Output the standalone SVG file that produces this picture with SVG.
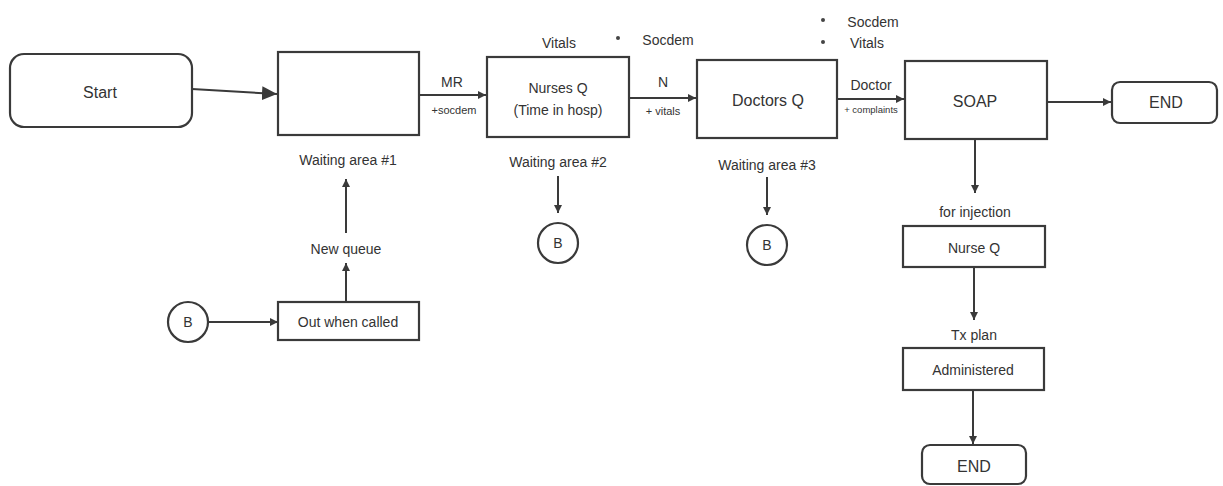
<svg xmlns="http://www.w3.org/2000/svg" width="1223" height="486" viewBox="0 0 1223 486">
<style>
.box{fill:#fff;stroke:#3a3a3a;stroke-width:2.2}
.ln{fill:none;stroke:#3a3a3a;stroke-width:2}
.t{font-family:"Liberation Sans",Arial,sans-serif;fill:#333;text-anchor:middle}
.s14{font-size:14px}
.s16{font-size:16px}
.s11{font-size:11px}
.s9{font-size:9.5px}
</style>
<defs>
<marker id="ah" markerUnits="userSpaceOnUse" markerWidth="9" markerHeight="8" refX="8" refY="4" orient="auto">
<path d="M0,0 L8,4 L0,8 Z" fill="#3a3a3a"/>
</marker>
<marker id="big" markerUnits="userSpaceOnUse" markerWidth="16" markerHeight="14" refX="15" refY="7" orient="auto">
<path d="M0,0 L15,7 L0,14 Z" fill="#3a3a3a"/>
</marker>
</defs>
<rect width="1223" height="486" fill="#fff"/>

<g id="connectors">
<line class="ln" x1="192" y1="89" x2="277" y2="94" stroke-width="3" marker-end="url(#big)"/>
<line class="ln" x1="419" y1="95" x2="486" y2="95" marker-end="url(#ah)"/>
<line class="ln" x1="629" y1="98" x2="696" y2="98" marker-end="url(#ah)"/>
<line class="ln" x1="837" y1="99" x2="904" y2="99" marker-end="url(#ah)"/>
<line class="ln" x1="1047" y1="102" x2="1111" y2="102" marker-end="url(#ah)"/>
<line class="ln" x1="975" y1="140" x2="975" y2="193" marker-end="url(#ah)"/>
<line class="ln" x1="974" y1="267" x2="974" y2="320" marker-end="url(#ah)"/>
<line class="ln" x1="973" y1="390" x2="973" y2="444" marker-end="url(#ah)"/>
<line class="ln" x1="558" y1="176" x2="558" y2="213" marker-end="url(#ah)"/>
<line class="ln" x1="767" y1="177" x2="767" y2="215" marker-end="url(#ah)"/>
<line class="ln" x1="208" y1="322" x2="278" y2="322" marker-end="url(#ah)"/>
<line class="ln" x1="346" y1="302" x2="346" y2="263" marker-end="url(#ah)"/>
<line class="ln" x1="346" y1="233" x2="346" y2="179" marker-end="url(#ah)"/>
<text class="t s14" x="452" y="87">MR</text>
<text class="t s11" x="454" y="114">+socdem</text>
<text class="t s14" x="663" y="87">N</text>
<text class="t s11" x="663" y="115">+ vitals</text>
<text class="t s14" x="871" y="90">Doctor</text>
<text class="t s9" x="871" y="113">+ complaints</text>
<text class="t s14" x="346" y="254">New queue</text>
<text class="t s14" x="975" y="217">for injection</text>
<text class="t s14" x="974" y="340">Tx plan</text>
</g>

<g id="start">
<rect class="box" x="10" y="54" width="182" height="73" rx="14"/>
<text class="t s16" x="100" y="98">Start</text>
</g>

<g id="waiting1">
<rect class="box" x="278" y="52" width="141" height="83"/>
<text class="t s14" x="348" y="165">Waiting area #1</text>
</g>

<g id="nursesq">
<rect class="box" x="487" y="57" width="142" height="80"/>
<text class="t s14" x="558" y="93">Nurses Q</text>
<text class="t s14" x="558" y="115">(Time in hosp)</text>
<text class="t s14" x="559" y="48">Vitals</text>
<circle cx="618" cy="38" r="2" fill="#444"/>
<text class="t s14" x="668" y="45">Socdem</text>
<text class="t s14" x="558" y="167">Waiting area #2</text>
</g>

<g id="doctorsq">
<rect class="box" x="697" y="60" width="140" height="78"/>
<text class="t s16" x="768" y="106">Doctors Q</text>
<text class="t s14" x="767" y="170">Waiting area #3</text>
</g>

<g id="soap">
<rect class="box" x="905" y="61" width="142" height="78"/>
<text class="t s16" x="975" y="107">SOAP</text>
<circle cx="823" cy="20" r="2" fill="#444"/>
<text class="t s14" x="873" y="27">Socdem</text>
<circle cx="823" cy="42" r="2" fill="#444"/>
<text class="t s14" x="867" y="48">Vitals</text>
</g>

<g id="end1">
<rect class="box" x="1112" y="82" width="105" height="41" rx="8"/>
<text class="t s16" x="1166" y="108">END</text>
</g>

<g id="b2">
<circle class="box" cx="558" cy="243" r="20"/>
<text class="t s14" x="558" y="248">B</text>
</g>

<g id="b3">
<circle class="box" cx="767" cy="245" r="20"/>
<text class="t s14" x="767" y="250">B</text>
</g>

<g id="b1">
<circle class="box" cx="188" cy="322" r="20"/>
<text class="t s14" x="188" y="327">B</text>
</g>

<g id="outwhencalled">
<rect class="box" x="278" y="302" width="141" height="38"/>
<text class="t s14" x="348" y="327">Out when called</text>
</g>

<g id="nurseq">
<rect class="box" x="903" y="226" width="142" height="41"/>
<text class="t s14" x="974" y="253">Nurse Q</text>
</g>

<g id="administered">
<rect class="box" x="903" y="348" width="141" height="42"/>
<text class="t s14" x="973" y="375">Administered</text>
</g>

<g id="end2">
<rect class="box" x="922" y="445" width="104" height="39" rx="8"/>
<text class="t s16" x="974" y="472">END</text>
</g>
</svg>
